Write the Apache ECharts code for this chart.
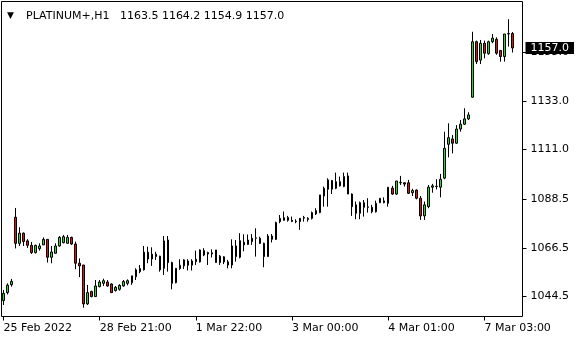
<!DOCTYPE html>
<html>
<head>
<meta charset="utf-8">
<script src="https://cdn.jsdelivr.net/npm/echarts@6/dist/echarts.min.js"></script>
<style>
html,body{margin:0;padding:0;background:#fff;}
#chart{width:580px;height:340px;}
</style>
</head>
<body>
<div id="chart"></div>
<script>
// ---- data (H1 bars, oldest first) ----
const symbol = 'PLATINUM+';
const timeframe = 'H1';
const opens = [
1042.7,1046.3,1049.9,1080.4,1068.6,1073.2,1069.7,1067.7,1064.4,1066.2,
1067.9,1070.4,1062.3,1064.1,1067.4,1068.9,1068.6,1071.3,1068.3,1059.6,
1058.8,1041.2,1046.8,1044.5,1049.0,1050.5,1051.1,1050.2,1047.2,1047.8,
1049.3,1050.5,1050.8,1053.5,1055.8,1056.6,1064.6,1061.5,1063.7,1062.8,
1057.3,1070.1,1059.9,1050.8,1057.2,1058.4,1060.6,1058.7,1060.3,1060.2,
1065.3,1064.4,1063.8,1065.6,1059.9,1062.5,1060.2,1058.8,1067.4,1062.3,
1069.1,1068.1,1069.4,1070.9,1070.9,1068.6,1062.6,1071.9,1070.4,1078.4,
1079.0,1079.0,1079.0,1078.6,1078.4,1080.0,1079.9,1079.9,1081.9,1082.5,
1090.0,1093.1,1097.0,1093.5,1096.5,1094.3,1099.1,1090.9,1086.0,1082.2,
1087.0,1084.9,1084.9,1082.9,1087.0,1087.8,1086.7,1093.6,1090.9,1096.0,
1096.0,1096.0,1091.5,1092.7,1089.0,1081.0,1085.2,1094.0,1094.3,1094.0,
1098.1,1113.4,1115.8,1113.9,1120.3,1122.5,1124.9,1134.7,1159.8,1151.5,
1159.1,1154.4,1159.8,1160.9,1155.8,1153.1,1163.3,1163.5
];
const closes = [
1046.0,1049.7,1051.4,1068.6,1073.2,1069.4,1067.7,1064.4,1067.7,1067.4,
1070.4,1062.3,1064.7,1067.4,1071.3,1071.6,1071.3,1068.3,1059.6,1058.4,
1041.2,1046.3,1044.5,1049.3,1051.1,1051.7,1049.3,1046.3,1048.7,1049.6,
1051.3,1051.7,1053.9,1056.6,1057.2,1064.6,1061.5,1063.7,1062.6,1056.6,
1069.7,1059.9,1050.5,1057.3,1058.7,1061.1,1058.7,1060.6,1061.4,1065.6,
1063.3,1063.8,1064.3,1059.9,1062.8,1060.2,1058.8,1067.4,1062.6,1069.8,
1067.9,1070.1,1070.9,1071.1,1068.6,1062.6,1071.9,1070.4,1078.0,1079.9,
1080.2,1080.3,1078.5,1078.4,1079.9,1080.3,1079.4,1082.5,1083.4,1090.5,
1093.5,1097.3,1093.1,1096.5,1094.6,1098.8,1090.9,1085.2,1082.2,1087.0,
1084.9,1085.1,1082.9,1086.7,1089.0,1087.0,1094.0,1090.9,1096.8,1096.2,
1095.4,1091.2,1092.5,1089.0,1081.0,1086.0,1094.0,1094.6,1094.4,1097.6,
1111.6,1116.4,1113.9,1120.3,1122.5,1124.9,1126.7,1159.8,1150.8,1159.1,
1154.6,1159.8,1161.4,1154.6,1153.1,1163.3,1163.5,1157.0
];
const lows = [
1040.7,1045.5,1049.0,1066.3,1067.4,1067.4,1066.5,1063.8,1064.0,1065.3,
1067.9,1059.9,1059.6,1064.0,1067.1,1068.6,1068.3,1067.9,1056.9,1053.3,
1039.5,1040.7,1044.2,1044.5,1048.7,1049.3,1049.0,1046.3,1046.8,1047.2,
1049.0,1049.6,1049.8,1052.0,1055.1,1056.3,1059.6,1058.4,1061.1,1055.8,
1054.3,1055.8,1047.8,1050.5,1056.6,1057.0,1056.3,1056.3,1058.8,1059.9,
1062.8,1058.8,1062.2,1059.9,1058.8,1059.2,1057.3,1057.3,1060.3,1061.8,
1065.0,1067.9,1067.9,1062.6,1068.3,1057.8,1062.6,1069.0,1070.1,1077.7,
1078.9,1078.4,1078.2,1077.7,1074.7,1078.4,1078.4,1079.4,1081.4,1082.2,
1085.2,1085.2,1090.9,1093.1,1094.3,1094.0,1090.9,1081.0,1079.5,1079.5,
1080.7,1082.5,1082.2,1082.5,1086.8,1086.7,1085.2,1090.5,1090.5,1095.0,
1094.3,1090.9,1090.0,1088.5,1079.2,1079.2,1084.5,1091.5,1093.0,1089.4,
1097.6,1107.5,1109.3,1113.6,1119.1,1122.1,1124.4,1134.5,1149.7,1149.7,
1152.3,1153.9,1159.1,1153.9,1150.8,1150.8,1157.6,1154.9
];
const highs = [
1047.5,1050.5,1052.5,1084.6,1075.9,1073.5,1070.5,1069.2,1068.0,1068.6,
1071.3,1070.4,1067.4,1068.6,1071.9,1072.4,1072.4,1071.6,1069.4,1061.8,
1058.8,1049.8,1047.2,1052.0,1052.0,1052.6,1052.0,1050.5,1049.3,1050.1,
1052.0,1052.3,1053.9,1057.3,1058.8,1067.4,1067.1,1066.8,1064.8,1063.0,
1071.9,1071.9,1060.3,1057.3,1061.4,1061.4,1061.4,1061.4,1065.3,1065.9,
1066.4,1064.8,1065.9,1065.6,1063.3,1062.8,1061.1,1070.4,1070.1,1073.2,
1072.7,1072.6,1072.8,1075.4,1071.6,1068.9,1072.8,1072.8,1078.4,1081.4,
1083.0,1081.0,1080.7,1079.5,1080.0,1081.0,1080.4,1083.0,1084.5,1090.5,
1094.3,1098.0,1097.3,1100.6,1098.8,1100.6,1100.6,1091.2,1087.5,1087.5,
1088.2,1089.0,1086.0,1087.9,1089.0,1089.4,1094.0,1094.6,1096.8,1099.1,
1096.1,1097.3,1093.3,1093.0,1090.0,1087.5,1095.0,1095.5,1097.6,1100.0,
1119.1,1122.9,1117.6,1122.1,1124.4,1129.7,1127.9,1164.3,1160.3,1160.6,
1160.3,1160.3,1163.3,1161.8,1156.1,1163.3,1170.0,1164.2
];
const xTickLabels = ['25 Feb 2022','28 Feb 21:00','1 Mar 22:00','3 Mar 00:00','4 Mar 01:00','7 Mar 03:00'];
const xTickStep = 24;           // bars between time labels
const yTickValues = [1044.5, 1066.5, 1088.5, 1111.0, 1133.0, 1155.0];
const yMin = 1035.5, yMax = 1178.0;
const emptyBarsRight = 2;       // chart shift

// ---- build ----
const n = opens.length;
const categories = [];
for (let i = 0; i < n + emptyBarsRight; i++) categories.push(String(i));
const candles = opens.map((o, i) => [o, closes[i], lows[i], highs[i]]);
const last = n - 1;
const lastClose = closes[last];
const header = symbol + ',' + timeframe + '   ' +
  [opens[last], highs[last], lows[last], closes[last]].map(v => v.toFixed(1)).join(' ');

const FONT = 'DejaVu Sans';
const isTick = (idx) => idx % xTickStep === 0 && idx / xTickStep < xTickLabels.length;

const chart = echarts.init(document.getElementById('chart'), null, {renderer: 'canvas'});
chart.setOption({
  backgroundColor: '#ffffff',
  animation: false,
  title: [
    {text: '▼', left: 2, top: 6, textStyle: {fontFamily: FONT, fontSize: 9, fontWeight: 'normal', color: '#000'}},
    {text: header, left: 21, top: 6, textStyle: {fontFamily: FONT, fontSize: 11, fontWeight: 'normal', color: '#000'}}
  ],
  grid: {
    left: 1.5, top: 1.5, width: 521, height: 315,
    show: true, borderColor: '#000', borderWidth: 1, backgroundColor: '#fff',
    containLabel: false
  },
  xAxis: {
    type: 'category',
    data: categories,
    boundaryGap: true,
    axisLine: {show: false},
    axisTick: {show: true, length: 4, alignWithLabel: true, interval: isTick, lineStyle: {color: '#000'}},
    axisLabel: {
      show: true, interval: isTick, align: 'left', margin: 6,
      fontFamily: FONT, fontSize: 11, color: '#000',
      formatter: (v, idx) => xTickLabels[idx / xTickStep]
    },
    splitLine: {show: false}
  },
  yAxis: {
    type: 'value',
    position: 'right',
    min: yMin, max: yMax,
    axisLine: {show: false},
    axisTick: {show: true, length: 4, customValues: yTickValues, lineStyle: {color: '#000'}},
    axisLabel: {
      show: true, customValues: yTickValues, margin: 8,
      fontFamily: FONT, fontSize: 11, color: '#000',
      formatter: (v) => Number(v).toFixed(1)
    },
    splitLine: {show: false}
  },
  series: [{
    type: 'candlestick',
    data: candles,
    barWidth: 2,
    clip: false,
    itemStyle: {
      color: '#22dd22', color0: '#dd1111',
      borderColor: '#000', borderColor0: '#000', borderWidth: 1
    },
    markLine: {
      silent: true,
      symbol: ['none', 'none'],
      animation: false,
      lineStyle: {color: 'rgba(0,0,0,0)', width: 0},
      label: {
        show: true, position: 'end', distance: 3,
        formatter: () => lastClose.toFixed(1),
        backgroundColor: '#000', color: '#fff',
        padding: [1, 5, 0, 5],
        fontFamily: FONT, fontSize: 11
      },
      data: [{yAxis: lastClose}]
    }
  }]
});
</script>
</body>
</html>
